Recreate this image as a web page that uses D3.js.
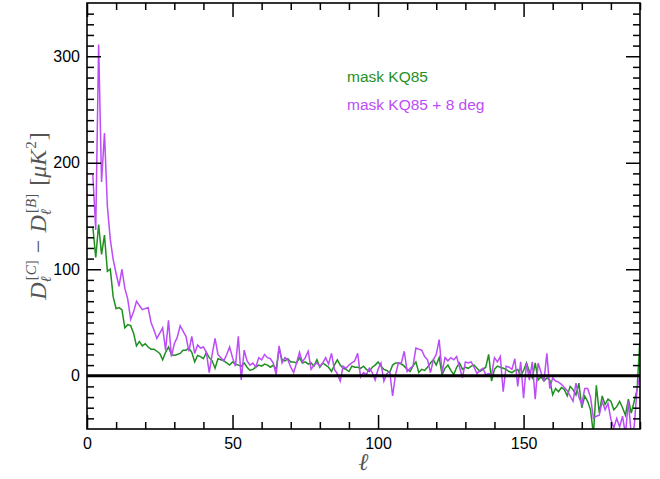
<!DOCTYPE html>
<html>
<head>
<meta charset="utf-8">
<script src="https://cdn.jsdelivr.net/npm/d3@7"></script>
<style>
  html, body { margin: 0; padding: 0; background: #fff; }
  svg { display: block; }
  .tick text { font-family: "Liberation Sans", Arial, sans-serif; font-size: 16px; fill: #000; }
</style>
</head>
<body>
<svg id="chart" width="660" height="479"></svg>
<script>
// Multipoles start at ell = 2
const firstEll = 2;

// D_ell^[C] - D_ell^[B] for mask KQ85, ell = 2..190 (muK^2)
const kq85 = [
  140, 111, 142, 114, 132, 98, 100, 74, 63, 64,
  62, 45, 48, 47, 40, 28, 32, 28, 30, 27,
  25, 25, 23, 21, 15, 22, 27, 20, 19, 20,
  21, 24, 24, 26, 22, 13, 19, 18, 16, 22,
  17, 14, 7, 16, 15, 14, 12, 10, 13, 11,
  10, 9, 12, 8, 5, 6, 8, 10, 9, 11,
  10, 8, 10, 6, 26, 15, 14, 16, 13, 13,
  12, 17, 12, 13, 11, 12, 9, 15, 8, 12,
  10, 8, 4, 10, 15, 10, 7, 6, 4, 9,
  8, 8, 7, 9, 6, 4, 8, 10, 13, 9,
  6, 5, 3, 10, 12, 12, 11, 9, 6, 4,
  9, 13, 3, 6, 5, 8, 12, 15, 10, 17,
  1, 7, 10, 5, 1, 8, 12, 6, 8, 7,
  9, 10, 7, 4, 6, 8, 20, -5, 6, 9,
  8, 7, 6, 4, 3, 5, 6, 0, 5, 12,
  4, -2, 12, -4, -1, -5, -2, -4, -18, -12,
  -15, -11, -13, -19, -10, -13, -18, -7, -30, -19,
  -24, -32, -55, -9, -35, -19, -27, -22, -24, -32,
  -29, -24, -30, -37, -22, -35, -24, -13, 35
];

// Same difference for mask KQ85 + 8 deg, ell = 2..190 (muK^2)
const kq85Plus8 = [
  189, 137, 311, 182, 228, 159, 128, 109, 96, 84,
  100, 82, 72, 53, 60, 70, 66, 62, 63, 64,
  50, 43, 35, 40, 45, 24, 52, 18, 30, 36,
  47, 42, 37, 23, 37, 21, 29, 26, 27, 22,
  3, 20, 35, 20, 17, 14, 20, 27, 17, 9,
  37, -4, 24, 14, 10, 12, 8, 17, 15, 20,
  17, 16, 12, 1, 28, 12, 17, 15, 8, 3,
  12, 22, 13, 17, 23, 6, 10, 12, 9, 12,
  17, 11, 21, 6, 2, -5, 9, 7, 10, 12,
  14, 21, -1, 3, 1, 7, 3, -4, 6, 12,
  -5, 2, 4, -19, 1, 12, 12, 23, 4, 7,
  9, 26, 25, 24, 18, 15, 3, 15, 20, 34,
  3, 17, 14, 17, 15, 18, 8, -2, 13, 12,
  13, 8, 2, 5, 7, 1, 2, 1, 17, 13,
  18, -15, 9, 8, 6, 16, -10, 13, -21, 12,
  -4, 13, -22, 12, 3, -5, 21, -12, -2, -5,
  -6, -8, -11, -14, -19, -24, -7, -20, -27, -12,
  -12, -20, -40, -38, -37, -24, -32, -26, -41, -49,
  -40, -48, -38, -55, -24, -55, -48, -12, 0
];

const seriesNames = ["mask KQ85", "mask KQ85 + 8 deg"];
const seriesColors = ["#1f8f1f", "#bb4cf6"];

const xMajorTicks = [0, 50, 100, 150];
const yMajorTicks = [0, 100, 200, 300];
const xDomain = [0, 190];
const yDomain = [-50, 350];

const svg = d3.select("#chart");
const plot = { left: 87, right: 640, top: 3, bottom: 429 };

const x = d3.scaleLinear().domain(xDomain).range([plot.left, plot.right]);
const y = d3.scaleLinear().domain(yDomain).range([plot.bottom, plot.top]);

const xMinorTicks = d3.range(xDomain[0], xDomain[1] + 1, 10).filter(v => !xMajorTicks.includes(v));
const yMinorTicks = d3.range(-40, yDomain[1], 10).filter(v => !yMajorTicks.includes(v));

// clip the curves to the frame
svg.append("defs").append("clipPath").attr("id", "frame-clip")
  .append("rect")
  .attr("x", plot.left).attr("y", plot.top)
  .attr("width", plot.right - plot.left).attr("height", plot.bottom - plot.top);

const toPoints = vals => vals.map((v, i) => [firstEll + i, v]);
const line = d3.line().x(d => x(d[0])).y(d => y(d[1]));

const curves = svg.append("g").attr("clip-path", "url(#frame-clip)");
[kq85, kq85Plus8].forEach((vals, i) => {
  curves.append("path")
    .datum(toPoints(vals))
    .attr("fill", "none")
    .attr("stroke", seriesColors[i])
    .attr("stroke-width", 1.5)
    .attr("stroke-linejoin", "miter")
    .attr("d", line);
});

// zero reference line
svg.append("line")
  .attr("x1", x(xDomain[0])).attr("x2", x(xDomain[1]))
  .attr("y1", y(0)).attr("y2", y(0))
  .attr("stroke", "#000").attr("stroke-width", 3.2);

// axes: inward ticks on all four sides
function styleAxis(g) {
  g.select(".domain").remove();
  g.selectAll(".tick line").attr("stroke", "#000").attr("stroke-width", 1.5);
}
const majorLen = 14, minorLen = 7;

svg.append("g").attr("transform", `translate(0,${plot.bottom})`)
  .call(d3.axisBottom(x).tickValues(xMajorTicks).tickSize(-majorLen).tickPadding(9).tickFormat(d3.format("d")))
  .call(styleAxis)
  .call(g => g.selectAll(".tick text").attr("dy", "0.71em"));
svg.append("g").attr("transform", `translate(0,${plot.bottom})`)
  .call(d3.axisBottom(x).tickValues(xMinorTicks).tickSize(-minorLen).tickFormat(""))
  .call(styleAxis);
svg.append("g").attr("transform", `translate(0,${plot.top})`)
  .call(d3.axisTop(x).tickValues(xMajorTicks).tickSize(-majorLen).tickFormat(""))
  .call(styleAxis);
svg.append("g").attr("transform", `translate(0,${plot.top})`)
  .call(d3.axisTop(x).tickValues(xMinorTicks).tickSize(-minorLen).tickFormat(""))
  .call(styleAxis);

svg.append("g").attr("transform", `translate(${plot.left},0)`)
  .call(d3.axisLeft(y).tickValues(yMajorTicks).tickSize(-majorLen).tickPadding(7).tickFormat(d3.format("d")))
  .call(styleAxis);
svg.append("g").attr("transform", `translate(${plot.left},0)`)
  .call(d3.axisLeft(y).tickValues(yMinorTicks).tickSize(-minorLen).tickFormat(""))
  .call(styleAxis);
svg.append("g").attr("transform", `translate(${plot.right},0)`)
  .call(d3.axisRight(y).tickValues(yMajorTicks).tickSize(-majorLen).tickFormat(""))
  .call(styleAxis);
svg.append("g").attr("transform", `translate(${plot.right},0)`)
  .call(d3.axisRight(y).tickValues(yMinorTicks).tickSize(-minorLen).tickFormat(""))
  .call(styleAxis);

// frame
svg.append("rect")
  .attr("x", plot.left).attr("y", plot.top)
  .attr("width", plot.right - plot.left).attr("height", plot.bottom - plot.top)
  .attr("fill", "none").attr("stroke", "#000").attr("stroke-width", 1.6);

// legend
const legend = svg.append("g")
  .attr("font-family", "'Liberation Sans', Arial, sans-serif")
  .attr("font-size", 15.5);
seriesNames.forEach((name, i) => {
  legend.append("text")
    .attr("x", 347).attr("y", 82 + i * 27.5)
    .attr("fill", seriesColors[i])
    .text(name);
});

// x-axis title
svg.append("text")
  .attr("x", (plot.left + plot.right) / 2).attr("y", 470)
  .attr("text-anchor", "middle")
  .attr("font-family", "'Liberation Serif', 'DejaVu Serif', serif")
  .attr("font-style", "italic")
  .attr("font-size", 24)
  .attr("fill", "#555")
  .text("ℓ");

// y-axis title: D_ell^[C] - D_ell^[B] [muK^2]
const yTitle = svg.append("text")
  .attr("transform", `translate(46,${(plot.top + plot.bottom) / 2}) rotate(-90)`)
  .attr("text-anchor", "middle")
  .attr("font-family", "'Liberation Serif', 'DejaVu Serif', serif")
  .attr("font-size", 24)
  .attr("fill", "#555");

function termD(label, trailing, gap) {
  yTitle.append("tspan").attr("font-style", "italic").text("D");
  yTitle.append("tspan").attr("font-size", 15).attr("font-style", "italic")
    .attr("dy", 5).text("ℓ");
  const sup = yTitle.append("tspan").attr("font-size", 15).attr("dx", -4).attr("dy", -15);
  sup.append("tspan").text("[");
  sup.append("tspan").attr("font-style", "italic").text(label);
  sup.append("tspan").text("]");
  yTitle.append("tspan").attr("dy", 10).attr("dx", gap).text(trailing);
}
termD("C", "−", 7);
termD("B", "[", 8);
yTitle.append("tspan").attr("font-style", "italic").text("μK");
yTitle.append("tspan").attr("font-size", 15).attr("dy", -10).attr("dx", 1).text("2");
yTitle.append("tspan").attr("dy", 10).attr("dx", 1).text("]");
// spacing after the minus sign
yTitle.selectAll("tspan").filter(function () { return this.textContent === "D"; })
  .filter((d, i) => i === 1).attr("dx", 7);
</script>
</body>
</html>
